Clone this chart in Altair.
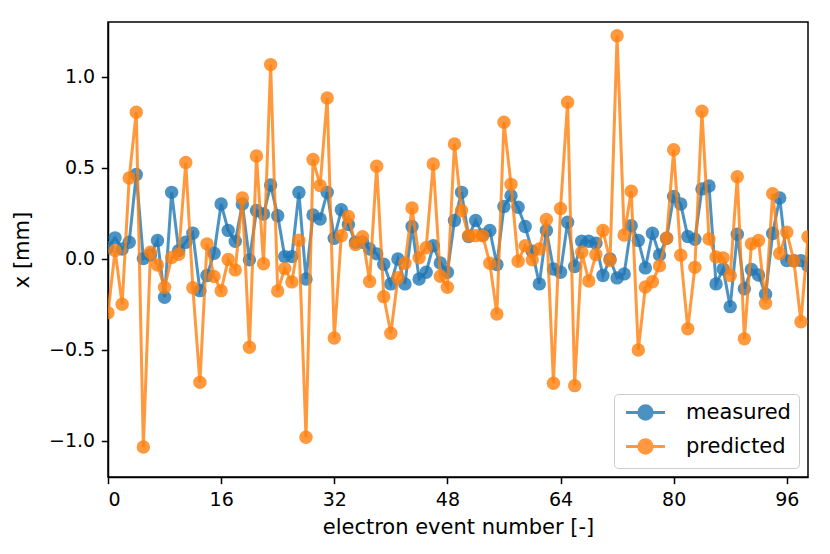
import altair as alt
import pandas as pd

events = list(range(100))

measured = [
    0.06, 0.114, 0.053, 0.09, 0.462, 0.0, 0.02, 0.099, -0.212, 0.364,
    0.044, 0.09, 0.139, -0.176, -0.093, 0.029, 0.30, 0.155, 0.095, 0.30,
    -0.007, 0.264, 0.245, 0.404, 0.236, 0.011, 0.011, 0.363, -0.112, 0.24,
    0.218, 0.364, 0.112, 0.268, 0.187, 0.09, 0.09, 0.053, 0.026, -0.031,
    -0.139, -0.002, -0.139, 0.176, -0.112, -0.075, 0.071, -0.024, -0.075, 0.209,
    0.364, 0.121, 0.209, 0.13, 0.155, -0.033, 0.286, 0.346, 0.282, 0.176,
    0.04, -0.139, 0.154, -0.057, -0.075, 0.2, -0.044, 0.095, 0.095, 0.084,
    -0.093, -0.002, -0.106, -0.084, 0.181, 0.1, -0.051, 0.139, 0.02, 0.112,
    0.341, 0.30, 0.121, 0.106, 0.383, 0.399, -0.139, -0.057, -0.264, 0.134,
    -0.166, -0.06, -0.09, -0.196, 0.138, 0.333, -0.011, -0.012, -0.011, -0.04,
]

predicted = [
    -0.297, 0.044, -0.251, 0.443, 0.804, -1.035, 0.035, -0.035, -0.158, 0.006,
    0.024, 0.528, -0.16, -0.68, 0.081, -0.098, -0.176, -0.005, -0.062, 0.333,
    -0.487, 0.564, -0.028, 1.066, -0.178, -0.055, -0.128, 0.101, -0.982, 0.545,
    0.401, 0.883, -0.436, 0.126, 0.231, 0.077, 0.12, -0.126, 0.508, -0.209,
    -0.41, -0.105, -0.026, 0.278, 0.005, 0.06, 0.52, -0.097, -0.158, 0.63,
    0.264, 0.126, 0.126, 0.126, -0.026, -0.304, 0.749, 0.408, -0.015, 0.071,
    -0.007, 0.053, 0.215, -0.685, 0.275, 0.859, -0.698, 0.035, -0.123, 0.022,
    0.154, -0.011, 1.225, 0.13, 0.37, -0.502, -0.156, -0.127, -0.04, 0.112,
    0.598, 0.019, -0.386, -0.048, 0.81, 0.108, 0.009, 0.004, -0.093, 0.45,
    -0.441, 0.081, 0.099, -0.245, 0.357, 0.028, 0.145, -0.012, -0.347, 0.12,
]

series_names = ["measured", "predicted"]
series_colors = ["#1f77b4", "#ff7f0e"]
x_ticks = [0, 16, 32, 48, 64, 80, 96]
y_ticks = [-1.0, -0.5, 0.0, 0.5, 1.0]

df = pd.DataFrame({
    "event": events + events,
    "value": measured + predicted,
    "series": [series_names[0]] * len(measured) + [series_names[1]] * len(predicted),
})

FONT = "DejaVu Sans"
LEGEND_SYMBOL = "M-2.9,0L2.9,0M-1,0A1,1,0,1,1,1,0A1,1,0,1,1,-1,0Z"

x_enc = alt.X(
    "event:Q",
    scale=alt.Scale(domain=[0, 99], nice=False, zero=False),
    axis=alt.Axis(values=x_ticks, title="electron event number [-]"),
)
y_enc = alt.Y(
    "value:Q",
    scale=alt.Scale(domain=[-1.2, 1.3], nice=False, zero=False),
    axis=alt.Axis(values=y_ticks, format=".1f", title="x [mm]"),
)
color_enc = alt.Color(
    "series:N",
    scale=alt.Scale(domain=series_names, range=series_colors),
    legend=alt.Legend(
        title=None,
        orient="bottom-right",
        offset=9,
        symbolType=LEGEND_SYMBOL,
        symbolSize=180,
        symbolOffset=13,
        symbolStrokeWidth=3,
        symbolOpacity=0.8,
        labelOffset=30,
        labelFontSize=21,
        labelFont=FONT,
        labelColor="black",
        rowPadding=7,
        padding=8,
        strokeColor="#cccccc",
        fillColor="rgba(255,255,255,0.8)",
        cornerRadius=4,
    ),
)

layers = []
for name in series_names:
    base = alt.Chart(df).transform_filter(alt.datum.series == name)
    line = base.mark_line(strokeWidth=3, opacity=0.8, clip=True).encode(
        x=x_enc, y=y_enc, color=color_enc, order="event:Q"
    )
    pts = base.mark_circle(size=180, opacity=0.8, clip=True).encode(
        x=x_enc, y=y_enc, color=color_enc
    )
    layers += [line, pts]

chart = alt.layer(*layers).properties(
    width=700,
    height=455,
    autosize=alt.AutoSizeParams(type="none"),
    padding={"left": 100, "top": 14, "right": 14, "bottom": 69},
).configure_view(
    stroke="black", strokeWidth=1.5
).configure_axis(
    grid=False,
    domainColor="black",
    domainWidth=1.5,
    tickColor="black",
    tickWidth=1.5,
    tickSize=6.7,
    labelPadding=6.7,
    labelFont=FONT,
    labelFontSize=19,
    labelColor="black",
    titleFont=FONT,
    titleFontSize=21,
    titleFontWeight="normal",
    titleColor="black",
    titlePadding=7,
).configure_axisY(
    titlePadding=16,
)

chart.save("out.html", embed_options={"renderer": "svg", "actions": False})
